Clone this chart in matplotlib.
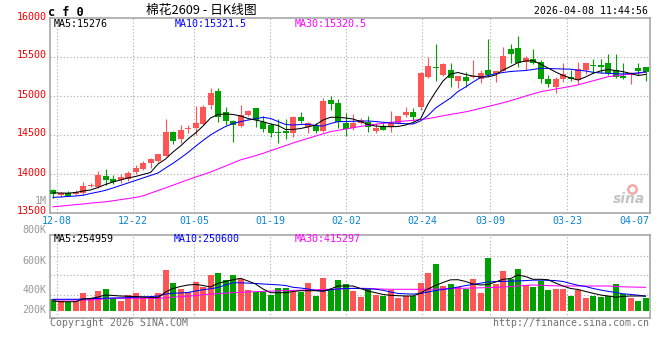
import matplotlib
matplotlib.use('Agg')
import matplotlib.pyplot as plt
import numpy as np
from matplotlib.transforms import blended_transform_factory as btf, offset_copy

# ---------------- data ----------------
opens = [13795, 13727, 13752, 13744, 13753, 13845, 13830, 13974, 13936, 13923,
         13940, 14030, 14064, 14145, 14170, 14231, 14542, 14449, 14577, 14586,
         14641, 14885, 15064, 14799, 14680, 14615, 14756, 14842, 14671, 14628,
         14542, 14555, 14530, 14727, 14599, 14615, 14555, 14949, 14914, 14658,
         14586, 14658, 14671, 14555, 14615, 14599, 14650, 14756, 14799, 14863,
         15248, 15368, 15270, 15334, 15196, 15240, 15240, 15214, 15334, 15282,
         15325, 15603, 15620, 15440, 15471, 15432, 15218, 15119, 15214, 15247,
         15205, 15333, 15401, 15401, 15419, 15334, 15257, 15269, 15355, 15368]
highs = [13808, 13770, 13786, 13795, 13901, 13888, 14039, 14064, 13987, 13996,
         14043, 14115, 14171, 14201, 14256, 14705, 14551, 14628, 14628, 14872,
         14885, 15106, 15106, 14863, 14692, 14885, 14820, 14842, 14744, 14650,
         14701, 14701, 14744, 14799, 14671, 14650, 14978, 15000, 14958, 14778,
         14769, 14714, 14744, 14650, 14650, 14808, 14744, 14863, 14850, 15304,
         15504, 15667, 15427, 15419, 15257, 15312, 15462, 15333, 15731, 15321,
         15632, 15667, 15769, 15513, 15603, 15462, 15269, 15247, 15427, 15333,
         15440, 15427, 15471, 15471, 15539, 15539, 15427, 15312, 15427, 15368]
lows = [13692, 13705, 13718, 13727, 13731, 13830, 13825, 13859, 13872, 13888,
        13914, 14000, 14051, 14073, 14158, 14231, 14381, 14394, 14522, 14500,
        14628, 14833, 14671, 14628, 14414, 14606, 14744, 14606, 14542, 14478,
        14394, 14445, 14478, 14650, 14530, 14530, 14542, 14820, 14586, 14487,
        14564, 14641, 14542, 14530, 14564, 14542, 14641, 14735, 14683, 14820,
        15235, 15196, 15257, 15112, 15099, 15119, 15227, 15171, 15260, 15183,
        15325, 15427, 15368, 15333, 15410, 15171, 15119, 15035, 15183, 15196,
        15154, 15278, 15291, 15291, 15269, 15227, 15214, 15154, 15269, 15196]
closes = [13740, 13760, 13722, 13773, 13846, 13855, 13987, 13923, 13901, 13966,
          14017, 14073, 14145, 14189, 14256, 14542, 14427, 14564, 14590, 14658,
          14855, 15042, 14735, 14680, 14628, 14756, 14808, 14692, 14577, 14530,
          14522, 14530, 14727, 14680, 14650, 14555, 14936, 14897, 14671, 14573,
          14658, 14692, 14606, 14586, 14564, 14650, 14744, 14799, 14727, 15291,
          15385, 15355, 15406, 15227, 15257, 15196, 15257, 15299, 15269, 15321,
          15513, 15539, 15420, 15491, 15420, 15214, 15150, 15218, 15278, 15214,
          15342, 15427, 15389, 15368, 15291, 15247, 15227, 15291, 15325, 15312]

ma5 = [13759, 13756, 13754, 13763, 13782, 13795, 13827, 13866, 13898, 13923,
       13949, 13968, 13994, 14019, 14128, 14192, 14282, 14359, 14449, 14526,
       14615, 14718, 14763, 14769, 14763, 14744, 14712, 14692, 14671, 14641,
       14622, 14571, 14571, 14583, 14603, 14628, 14692, 14727, 14727, 14718,
       14705, 14673, 14635, 14615, 14609, 14606, 14609, 14628, 14660, 14705,
       14897, 15051, 15192, 15282, 15301, 15276, 15256, 15244, 15244, 15269,
       15333, 15378, 15429, 15449, 15453, 15410, 15359, 15308, 15263, 15231,
       15205, 15244, 15291, 15321, 15340, 15327, 15312, 15289, 15263, 15276]
ma10 = [13699, 13705, 13712, 13718, 13727, 13750, 13769, 13791, 13821, 13853,
        13885, 13917, 13949, 13981, 14013, 14077, 14137, 14205, 14276, 14355,
        14430, 14500, 14558, 14609, 14647, 14671, 14692, 14709, 14727, 14712,
        14673, 14635, 14628, 14635, 14637, 14622, 14615, 14647, 14671, 14673,
        14676, 14677, 14680, 14673, 14663, 14654, 14650, 14645, 14641, 14680,
        14750, 14846, 14910, 14974, 15058, 15115, 15179, 15237, 15263, 15286,
        15301, 15314, 15321, 15327, 15340, 15355, 15353, 15349, 15346, 15344,
        15330, 15321, 15304, 15295, 15290, 15286, 15282, 15289, 15295, 15310]
ma30 = [13580, 13588, 13597, 13607, 13616, 13626, 13635, 13643, 13657, 13671,
        13685, 13699, 13720, 13754, 13788, 13822, 13857, 13892, 13927, 13960,
        13992, 14025, 14063, 14102, 14141, 14181, 14207, 14235, 14265, 14298,
        14331, 14364, 14397, 14428, 14457, 14486, 14515, 14543, 14560, 14576,
        14593, 14610, 14625, 14637, 14650, 14662, 14672, 14680, 14688, 14697,
        14710, 14728, 14746, 14764, 14780, 14797, 14818, 14842, 14865, 14889,
        14913, 14940, 14969, 14998, 15027, 15055, 15072, 15089, 15106, 15123,
        15143, 15169, 15195, 15221, 15248, 15259, 15270, 15282, 15293, 15304]

volume_k = [199, 175, 158, 175, 311, 216, 345, 379, 216, 175,
            272, 311, 243, 226, 311, 697, 481, 374, 323, 493,
            403, 612, 646, 527, 612, 549, 357, 328, 328, 272,
            391, 391, 328, 328, 481, 260, 561, 374, 527, 459,
            340, 238, 369, 272, 255, 352, 221, 255, 255, 476,
            646, 799, 425, 459, 403, 369, 544, 306, 901, 459,
            680, 544, 714, 442, 414, 515, 357, 374, 374, 260,
            357, 221, 255, 243, 255, 459, 289, 221, 170, 221]
vma5_k = [170, 158, 158, 158, 204, 213, 238, 272, 264, 255,
          250, 247, 238, 230, 226, 323, 383, 417, 442, 451,
          434, 408, 471, 502, 530, 556, 510, 459, 374, 311,
          311, 311, 332, 345, 345, 345, 340, 374, 425, 425,
          425, 383, 340, 311, 281, 267, 260, 255, 255, 306,
          374, 434, 485, 530, 532, 502, 459, 442, 451, 493,
          539, 552, 612, 586, 539, 539, 532, 476, 425, 383,
          366, 332, 301, 272, 255, 235, 247, 255, 255, 255]
vma10_k = [199, 199, 199, 199, 204, 209, 214, 218, 221, 223,
           226, 235, 240, 245, 253, 289, 303, 306, 315, 340,
           362, 377, 400, 442, 481, 479, 474, 468, 459, 452,
           445, 434, 403, 391, 374, 349, 337, 360, 374, 383,
           385, 381, 376, 371, 352, 323, 298, 292, 287, 298,
           323, 349, 366, 384, 408, 432, 451, 473, 493, 500,
           503, 508, 510, 517, 524, 525, 522, 517, 502, 468,
           437, 417, 383, 357, 335, 315, 292, 282, 269, 251]
vma30_k = [187, 187, 187, 187, 187, 187, 196, 207, 216, 216,
           216, 216, 216, 216, 216, 224, 236, 243, 253, 262,
           277, 289, 296, 304, 313, 318, 323, 328, 333, 338,
           343, 347, 350, 354, 357, 362, 366, 369, 374, 379,
           383, 386, 384, 377, 372, 369, 369, 369, 369, 369,
           369, 372, 376, 381, 384, 388, 391, 394, 398, 403,
           408, 415, 425, 435, 442, 437, 432, 428, 425, 425,
           425, 425, 425, 425, 425, 417, 411, 408, 405, 403]

date_labels = ['12-08', '12-22', '01-05', '01-19', '02-02', '02-24', '03-09', '03-23', '04-07']
price_ticks = [16000, 15500, 15000, 14500, 14000, 13500]
vol_labels = ['1M', '800K', '600K', '400K', '200K']

title_text = '棉花2609 - 日K线图'
symbol_text = 'c f 0'
time_text = '2026-04-08 11:44:56'
ma_text = ['MA5:15276', 'MA10:15321.5', 'MA30:15320.5']
vma_text = ['MA5:254959', 'MA10:250600', 'MA30:415297']

# ---------------- style / layout ----------------
W, H = 660, 360
RED = '#ff5555'
GREEN = '#00a000'
GRID = '#aaaaaa'
SPINE = '#a0a0a0'
MONO = 'DejaVu Sans Mono'
DOTS = (0, (1, 2))
LW = 0.75

def fx(px):
    return px / W

def fy(py):
    return 1 - py / H

fig = plt.figure(figsize=(6.6, 3.6), dpi=100)
fig.patch.set_facecolor('white')

L, R = 50, 649.5
ax = fig.add_axes([fx(L), fy(213), fx(R) - fx(L), fy(18) - fy(213)])
axv = fig.add_axes([fx(L), fy(318), fx(R) - fx(L), fy(234.5) - fy(318)])

n = len(closes)
idx = np.arange(n)
xlim = (-0.4, 79.53)
# gridline / label positions (in candle index units)
date_pos = [0.53, 10.67, 18.8, 28.93, 39.13, 49.2, 58.33, 68.53, 77.53]
grid_pos = date_pos[:-1]

for a in (ax, axv):
    a.set_xlim(*xlim)
    a.set_xticks([])
    a.set_yticks([])
    for s in a.spines.values():
        s.set_color(SPINE)
        s.set_linewidth(1.1)
    for p in grid_pos:
        a.axvline(p, color=GRID, lw=0.8, ls=DOTS, zorder=0)

# ---- main panel ----
ax.set_ylim(price_ticks[-1], price_ticks[0])
for v in price_ticks[1:-1]:
    ax.axhline(v, color=GRID, lw=0.8, ls=DOTS, zorder=0)

o = np.array(opens); c = np.array(closes)
hi = np.array(highs); lo = np.array(lows)
up = c >= o
cols = [RED if u else GREEN for u in up]
ax.vlines(idx, lo, hi, colors=cols, lw=0.8, zorder=2)
body_bottom = np.minimum(o, c)
body_h = np.maximum(np.abs(c - o), 13)
ax.bar(idx, body_h, bottom=body_bottom, width=0.8, color=cols, lw=0, zorder=3)

ax.plot(idx, ma30, color='#ff00ff', lw=LW, zorder=4)
ax.plot(idx, ma10, color='#0000ff', lw=LW, zorder=4)
ax.plot(idx, ma5, color='black', lw=LW, zorder=4)

tr_price = offset_copy(btf(ax.transAxes, ax.transData), fig=fig, x=-3, y=1.5, units='dots')
for v in price_ticks:
    ax.text(0, v, str(v), transform=tr_price, ha='right', va='center',
            color='#ee0000', fontsize=7.2, family=MONO, clip_on=False)

tr_date = offset_copy(btf(ax.transData, ax.transAxes), fig=fig, y=-8.5, units='dots')
for p, lab in zip(date_pos, date_labels):
    ax.text(p, 0, lab, transform=tr_date, ha='center', va='center',
            color='#0a84d0', fontsize=7.2, family=MONO, clip_on=False)

# sina watermark
ax.text(0.965, 0.07, 'sina', transform=ax.transAxes, ha='center', va='center',
        fontsize=10, style='italic', weight='bold', color='#c4c4c4', zorder=1)
ax.plot([0.97], [0.125], marker='o', ms=6, mfc='none', mec='#f2a8a8', mew=1.8,
        transform=ax.transAxes, zorder=1)

# ---- volume panel ----
PXV = 17000  # volume per pixel
vol = np.array(volume_k) * 1000
axv.set_ylim(-(318 - 311) * PXV, (311 - 234.5) * PXV)
for py in (255.5, 274.7, 294.7):
    f = (318 - py) / 83.5
    axv.plot([0, 1], [f, f], transform=axv.transAxes, color=GRID, lw=0.8, ls=DOTS, zorder=0)
axv.bar(idx, vol, width=0.8, color=cols, lw=0, zorder=2)
axv.plot(idx, np.array(vma30_k) * 1000, color='#ff00ff', lw=LW, zorder=4)
axv.plot(idx, np.array(vma10_k) * 1000, color='#0000ff', lw=LW, zorder=4)
axv.plot(idx, np.array(vma5_k) * 1000, color='black', lw=LW, zorder=4)

for lab, py in zip(vol_labels, [201, 230, 261, 290, 310]):
    fig.text(fx(46.5), fy(py), lab, ha='right', va='center', color='#999999',
             fontsize=7.2, family=MONO)

# ---- header / texts ----
fig.text(fx(48), fy(12), symbol_text, ha='left', va='center', fontsize=8.6,
         family=MONO, weight='bold', color='black')
fig.text(fx(201), fy(10.5), title_text, ha='center', va='center', fontsize=9.2,
         family=['Noto Sans CJK SC', 'DejaVu Sans'], color='black')
fig.text(fx(648.5), fy(11.5), time_text, ha='right', va='center', fontsize=7.1,
         family=MONO, color='black')

for t, x0, col in zip(ma_text, [54, 175, 295], ['black', '#0000ff', '#ff00ff']):
    fig.text(fx(x0), fy(24), t, ha='left', va='center', fontsize=7.2, family=MONO, color=col)
for t, x0, col in zip(vma_text, [54, 174, 295], ['black', '#0000ff', '#ff00ff']):
    fig.text(fx(x0), fy(238.5), t, ha='left', va='center', fontsize=7.2, family=MONO, color=col)

fig.text(fx(50), fy(323), 'Copyright 2026 SINA.COM', ha='left', va='center',
         fontsize=7.1, family=MONO, color='#707070')
fig.text(fx(649), fy(323), 'http://finance.sina.com.cn', ha='right', va='center',
         fontsize=7.1, family=MONO, color='#707070')

fig.savefig('out.png', dpi=100, facecolor='white')
